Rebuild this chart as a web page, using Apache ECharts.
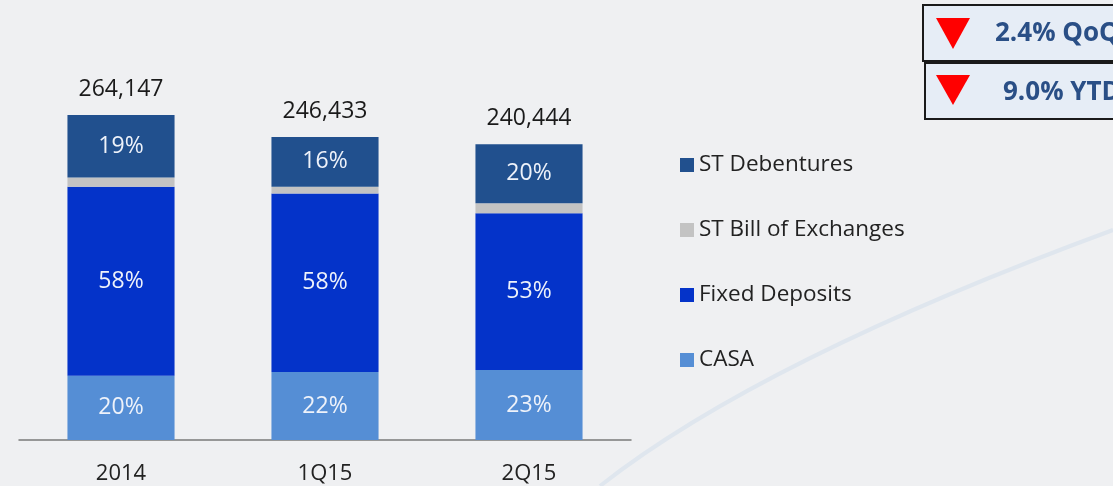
<!DOCTYPE html>
<html>
<head>
<meta charset="utf-8">
<script src="https://cdn.jsdelivr.net/npm/echarts@6/dist/echarts.min.js"></script>
<style>
    html, body { margin: 0; padding: 0; background: #eff0f2; }
    #chart { width: 1113px; height: 486px; }
</style>
</head>
<body>
<div id="chart"></div>
<script>
var categories = ['2014', '1Q15', '2Q15'];
var totals = [264147, 246433, 240444];
var casa = [52300, 55300, 56900];
var fixedDeposits = [153600, 145200, 127400];
var billOfExchanges = [7600, 5400, 8200];
var debentures = [50647, 40533, 47944];
var casaPct = [20, 22, 23];
var fixedPct = [58, 58, 53];
var debPct = [19, 16, 20];
var legendNames = ['ST Debentures', 'ST Bill of Exchanges', 'Fixed Deposits', 'CASA'];

var font = '"Open Sans", sans-serif';

function pctLabel(arr) {
    return {
        show: true,
        position: 'inside',
        color: '#eef2fa',
        fontFamily: font,
        fontSize: 23,
        formatter: function(p) {
            return arr[p.dataIndex] + '%';
        }
    };
}

function bar(name, data, color, label) {
    return {
        name: name,
        type: 'bar',
        stack: 'total',
        data: data,
        barCategoryGap: '47.5%',
        itemStyle: { color: color },
        label: label || { show: false },
        emphasis: { disabled: true }
    };
}

var chart = echarts.init(document.getElementById('chart'));

chart.setOption({
    backgroundColor: '#eff0f2',
    animation: false,
    grid: { left: 19, right: 482, top: 71, bottom: 46 },
    legend: {
        data: legendNames,
        orient: 'vertical',
        left: 675,
        top: 148,
        icon: 'rect',
        itemWidth: 14,
        itemHeight: 14,
        itemGap: 41,
        textStyle: { fontFamily: font, fontSize: 22.5, color: '#222', lineHeight: 24 }
    },
    xAxis: {
        type: 'category',
        data: categories,
        axisLine: { lineStyle: { color: '#7a7a7a', width: 1.5 } },
        axisTick: { show: false },
        axisLabel: { margin: 23, fontFamily: font, fontSize: 22, color: '#222' }
    },
    yAxis: {
        type: 'value',
        min: 0,
        max: 300000,
        show: false,
        splitLine: { show: false }
    },
    series: [
        bar('CASA', casa, '#558ed5', pctLabel(casaPct)),
        bar('Fixed Deposits', fixedDeposits, '#0433c9', pctLabel(fixedPct)),
        bar('ST Bill of Exchanges', billOfExchanges, '#c3c3c3'),
        bar('ST Debentures', debentures, '#21508e', pctLabel(debPct)),
        {
            // totals written above each stack
            name: 'total',
            type: 'bar',
            stack: 'total',
            data: [0, 0, 0],
            barCategoryGap: '47.5%',
            itemStyle: { color: 'transparent' },
            label: {
                show: true,
                position: 'top',
                distance: 14,
                fontFamily: font,
                fontSize: 23,
                color: '#1a1a1a',
                formatter: function(p) {
                    return totals[p.dataIndex].toLocaleString('en-US');
                }
            },
            emphasis: { disabled: true }
        }
    ],
    graphic: [
        {
            type: 'bezierCurve',
            silent: true,
            shape: { x1: 600, y1: 486, cpx1: 760, cpy1: 360, x2: 1113, y2: 230 },
            style: { stroke: '#dfe6ee', lineWidth: 4, fill: null }
        },
        {
            type: 'rect',
            shape: { x: 923, y: 5, width: 200, height: 56 },
            style: { fill: '#e6edf6', stroke: '#1a1a1a', lineWidth: 2 }
        },
        {
            type: 'rect',
            shape: { x: 925, y: 63, width: 200, height: 56 },
            style: { fill: '#e6edf6', stroke: '#1a1a1a', lineWidth: 2 }
        },
        {
            type: 'polygon',
            shape: { points: [[936, 18], [970, 18], [953, 49]] },
            style: { fill: '#ff0000' }
        },
        {
            type: 'polygon',
            shape: { points: [[936, 75], [970, 75], [953, 105]] },
            style: { fill: '#ff0000' }
        },
        {
            type: 'text',
            x: 995,
            y: 34,
            style: {
                text: '2.4% QoQ',
                fontFamily: font,
                fontWeight: 'bold',
                fontSize: 26,
                fill: '#2a4f86',
                verticalAlign: 'middle'
            }
        },
        {
            type: 'text',
            x: 1003,
            y: 93,
            style: {
                text: '9.0% YTD',
                fontFamily: font,
                fontWeight: 'bold',
                fontSize: 26,
                fill: '#2a4f86',
                verticalAlign: 'middle'
            }
        }
    ]
});
</script>
</body>
</html>
